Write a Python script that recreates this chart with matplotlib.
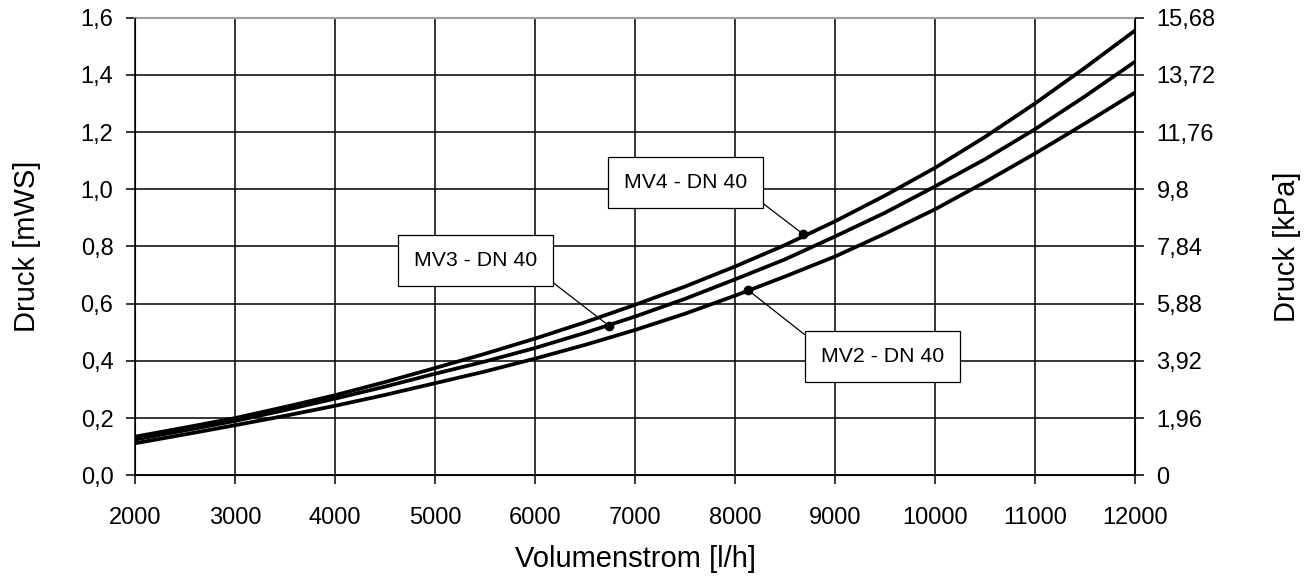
import matplotlib
matplotlib.use('Agg')
import matplotlib.pyplot as plt

plt.rcParams['font.family'] = ['Liberation Sans', 'DejaVu Sans']

# flow rate [l/h]
flow = [2000, 2500, 3000, 3500, 4000, 4500, 5000, 5500, 6000, 6500, 7000,
        7500, 8000, 8500, 9000, 9500, 10000, 10500, 11000, 11500, 12000]
# pressure drop [mWS]
mv4 = [0.135, 0.167, 0.200, 0.239, 0.280, 0.326, 0.375, 0.425, 0.478, 0.535, 0.596,
       0.660, 0.730, 0.805, 0.888, 0.978, 1.075, 1.183, 1.300, 1.425, 1.555]
mv3 = [0.125, 0.157, 0.190, 0.228, 0.268, 0.310, 0.355, 0.398, 0.445, 0.498, 0.555,
       0.617, 0.685, 0.755, 0.835, 0.918, 1.010, 1.105, 1.210, 1.325, 1.446]
mv2 = [0.112, 0.143, 0.175, 0.208, 0.243, 0.281, 0.322, 0.363, 0.408, 0.456, 0.508,
       0.565, 0.628, 0.695, 0.765, 0.845, 0.930, 1.025, 1.125, 1.230, 1.338]

# labels: (text, point on curve, box centre)
label_texts = ['MV4 - DN 40', 'MV3 - DN 40', 'MV2 - DN 40']
label_points = [(8683, 0.843), (6743, 0.522), (8133, 0.647)]
label_boxes = [(7510, 1.025), (5405, 0.750), (9475, 0.414)]
label_relpos = [(1, 0), (1, 0), (0, 1)]

left_ticks = [0.0, 0.2, 0.4, 0.6, 0.8, 1.0, 1.2, 1.4, 1.6]
right_ticks = [0, 1.96, 3.92, 5.88, 7.84, 9.8, 11.76, 13.72, 15.68]
right_labels = ['0', '1,96', '3,92', '5,88', '7,84', '9,8', '11,76', '13,72', '15,68']


def main() -> None:
    fig = plt.figure(figsize=(13.13, 5.8), dpi=100)
    ax = fig.add_axes([0.1028, 0.1805, 0.7616, 0.789])

    for series in (mv4, mv3, mv2):
        ax.plot(flow, series, color='black', linewidth=2.7, solid_joinstyle='round', zorder=3)

    ax.set_xlim(2000, 12000)
    ax.set_ylim(0, 1.6)
    ax.set_xticks(range(2000, 12001, 1000))
    ax.set_yticks(left_ticks)
    ax.set_yticklabels([f'{v:.1f}'.replace('.', ',') for v in left_ticks])
    ax.grid(True, color='black', linewidth=1.1)
    ax.tick_params(axis='both', direction='out', length=6.5, width=1.1, labelsize=17, colors='black')
    ax.tick_params(axis='y', pad=9)
    ax.tick_params(axis='x', pad=16)

    for side in ('left', 'bottom', 'right'):
        ax.spines[side].set_linewidth(1.1)
    ax.spines['top'].set_color('#a0a0a0')
    ax.spines['top'].set_linewidth(1.5)

    ax2 = ax.twinx()
    ax2.set_ylim(0, 15.68)
    ax2.set_yticks(right_ticks)
    ax2.set_yticklabels(right_labels)
    ax2.tick_params(axis='y', direction='out', length=6.5, width=1.1, labelsize=17, pad=9)
    ax2.spines['top'].set_visible(False)

    for text, pt, box, rel in zip(label_texts, label_points, label_boxes, label_relpos):
        ax.plot(*pt, 'o', color='black', markersize=6, zorder=5)
        ax.annotate(text, xy=pt, xytext=box, ha='center', va='center', fontsize=15.3,
                    bbox=dict(boxstyle='square,pad=0.75', facecolor='white', edgecolor='black', linewidth=0.9),
                    arrowprops=dict(arrowstyle='-', color='black', linewidth=0.9, relpos=rel,
                                    shrinkA=0, shrinkB=0),
                    zorder=6)

    fig.text(0.0206, 0.575, 'Druck [mWS]', rotation=90, ha='center', va='center', fontsize=21)
    fig.text(0.980, 0.575, 'Druck [kPa]', rotation=90, ha='center', va='center', fontsize=21)
    fig.text(0.4837, 0.037, 'Volumenstrom [l/h]', ha='center', va='center', fontsize=21)

    fig.savefig('out.png', dpi=100)


if __name__ == '__main__':
    main()
